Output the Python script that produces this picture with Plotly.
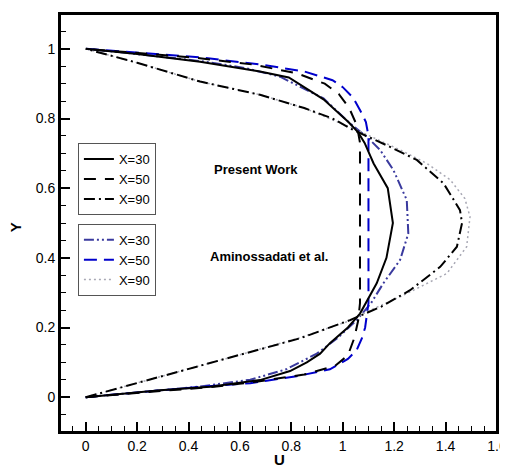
import plotly.graph_objects as go

# ---------------- data ----------------
# Present work
y_p30 = [0, 0.02, 0.03, 0.049, 0.075, 0.10, 0.125, 0.155, 0.20, 0.24, 0.327, 0.40, 0.50, 0.60, 0.671, 0.73, 0.76, 0.79, 0.855, 0.918, 0.935, 0.963, 0.985, 1.0]
u_p30 = [0, 0.29, 0.484, 0.678, 0.795, 0.86, 0.912, 0.95, 1.02, 1.067, 1.132, 1.17, 1.195, 1.175, 1.12, 1.085, 1.06, 1.022, 0.925, 0.79, 0.678, 0.445, 0.20, 0]

y_p50 = [0, 0.015, 0.03, 0.045, 0.065, 0.09, 0.12, 0.17, 0.22, 0.27, 0.50, 0.73, 0.78, 0.83, 0.87, 0.90, 0.93, 0.955, 0.975, 1.0]
u_p50 = [0, 0.25, 0.50, 0.67, 0.85, 0.97, 1.02, 1.045, 1.06, 1.067, 1.067, 1.067, 1.055, 1.025, 0.985, 0.93, 0.82, 0.65, 0.42, 0]

y_p90 = [0, 0.058, 0.13, 0.169, 0.221, 0.26, 0.307, 0.374, 0.432, 0.50, 0.537, 0.614, 0.681, 0.72, 0.767, 0.80, 0.83, 0.868, 0.906, 0.96, 1.0]
u_p90 = [0, 0.29, 0.639, 0.834, 1.028, 1.15, 1.262, 1.379, 1.444, 1.464, 1.456, 1.392, 1.288, 1.18, 1.041, 0.96, 0.85, 0.678, 0.445, 0.20, 0]

# Aminossadati et al.
y_a30 = [0, 0.02, 0.03, 0.05, 0.08, 0.125, 0.17, 0.221, 0.27, 0.327, 0.394, 0.47, 0.566, 0.652, 0.71, 0.748, 0.786, 0.858, 0.92, 0.945, 0.965, 0.985, 1.0]
u_a30 = [0, 0.28, 0.44, 0.64, 0.78, 0.899, 0.98, 1.054, 1.11, 1.158, 1.223, 1.255, 1.249, 1.197, 1.145, 1.093, 1.028, 0.925, 0.756, 0.62, 0.445, 0.20, 0]

y_a50 = [0, 0.015, 0.03, 0.04, 0.06, 0.08, 0.11, 0.135, 0.17, 0.20, 0.27, 0.50, 0.75, 0.79, 0.82, 0.86, 0.89, 0.91, 0.935, 0.955, 0.975, 1.0]
u_a50 = [0, 0.22, 0.45, 0.64, 0.82, 0.95, 1.02, 1.054, 1.075, 1.087, 1.10, 1.10, 1.10, 1.09, 1.07, 1.04, 1.00, 0.96, 0.85, 0.68, 0.45, 0]

y_a90 = [0, 0.06, 0.13, 0.17, 0.22, 0.245, 0.288, 0.355, 0.432, 0.518, 0.57, 0.624, 0.671, 0.71, 0.75, 0.77, 0.83, 0.868, 0.906, 0.96, 1.0]
u_a90 = [0, 0.30, 0.64, 0.83, 1.03, 1.093, 1.223, 1.405, 1.482, 1.495, 1.475, 1.418, 1.327, 1.223, 1.10, 1.045, 0.85, 0.68, 0.445, 0.20, 0]

x_ticks = [0, 0.2, 0.4, 0.6, 0.8, 1.0, 1.2, 1.4, 1.6]
y_ticks = [0, 0.2, 0.4, 0.6, 0.8, 1.0]

FONT = "Liberation Sans"

fig = go.Figure()

series = [
    (u_p30, y_p30, "X=30", "black", "solid", 2, "legend"),
    (u_p50, y_p50, "X=50", "black", "12px,9px", 2, "legend"),
    (u_p90, y_p90, "X=90", "black", "11px,4px,2px,4px", 2, "legend"),
    (u_a30, y_a30, "X=30", "#3a3a9e", "10px,3px,2px,3px,2px,3px", 2, "legend2"),
    (u_a50, y_a50, "X=50", "#0000cc", "13px,7px", 2, "legend2"),
    (u_a90, y_a90, "X=90", "#a8a8b4", "2px,3px", 1.5, "legend2"),
]
order = [3, 4, 5, 0, 1, 2]
for i in order:
    u, y, name, col, dash, w, lg = series[i]
    fig.add_trace(go.Scatter(
        x=u, y=y, mode="lines", name=name,
        line=dict(color=col, dash=dash, width=w),
        legend=lg, legendrank=i,
    ))

legend_common = dict(
    bgcolor="white", bordercolor="#555555", borderwidth=1,
    font=dict(family=FONT, size=13, color="black"),
    xanchor="left", yanchor="top", tracegroupgap=0,
    itemclick=False, itemdoubleclick=False,
    traceorder="normal",
)

axis_common = dict(
    showgrid=False, zeroline=False, automargin=False,
    showline=True, linecolor="black", linewidth=2, mirror=True,
    ticks="inside", ticklen=10, tickwidth=2, tickcolor="black",
    minor=dict(dtick=0.05, tick0=0, ticks="inside", ticklen=6, tickwidth=1,
               tickcolor="black", showgrid=False),
)

# the page body has an 8px margin, so the figure is shifted by 8px; size it to fill the rest
fig.update_layout(
    width=500, height=459,
    margin=dict(l=52, r=11, t=6, b=35),
    paper_bgcolor="white", plot_bgcolor="white",
    font=dict(family=FONT, size=14, color="black"),
    showlegend=True,
    legend=dict(x=0.041, y=0.691, **legend_common),
    legend2=dict(x=0.041, y=0.498, **legend_common),
    xaxis=dict(range=[-0.1, 1.6], tickmode="array", tickvals=x_ticks, **axis_common),
    yaxis=dict(range=[-0.1, 1.1], tickmode="array", tickvals=y_ticks, **axis_common),
    shapes=[
        dict(type="rect", xref="paper", yref="paper", x0=0, x1=1, y0=0, y1=1,
             line=dict(color="black", width=2), fillcolor="rgba(0,0,0,0)", layer="above"),
    ],
    annotations=[
        dict(text="<b>Y</b>", x=-0.103, y=0.49, xref="paper", yref="paper",
             xanchor="center", yanchor="middle", showarrow=False, textangle=-90,
             font=dict(family=FONT, size=15, color="black")),
        dict(text="<b>U</b>", x=0.503, y=-0.066, xref="paper", yref="paper",
             xanchor="center", yanchor="middle", showarrow=False,
             font=dict(family=FONT, size=15, color="black")),
        dict(text="<b>Present Work</b>", x=0.347, y=0.628, xref="paper", yref="paper",
             xanchor="left", yanchor="middle", showarrow=False,
             font=dict(family=FONT, size=13, color="black")),
        dict(text="<b>Aminossadati et al.</b>", x=0.338, y=0.42, xref="paper", yref="paper",
             xanchor="left", yanchor="middle", showarrow=False,
             font=dict(family=FONT, size=13, color="black")),
    ],
)

fig.write_html("out.html")
